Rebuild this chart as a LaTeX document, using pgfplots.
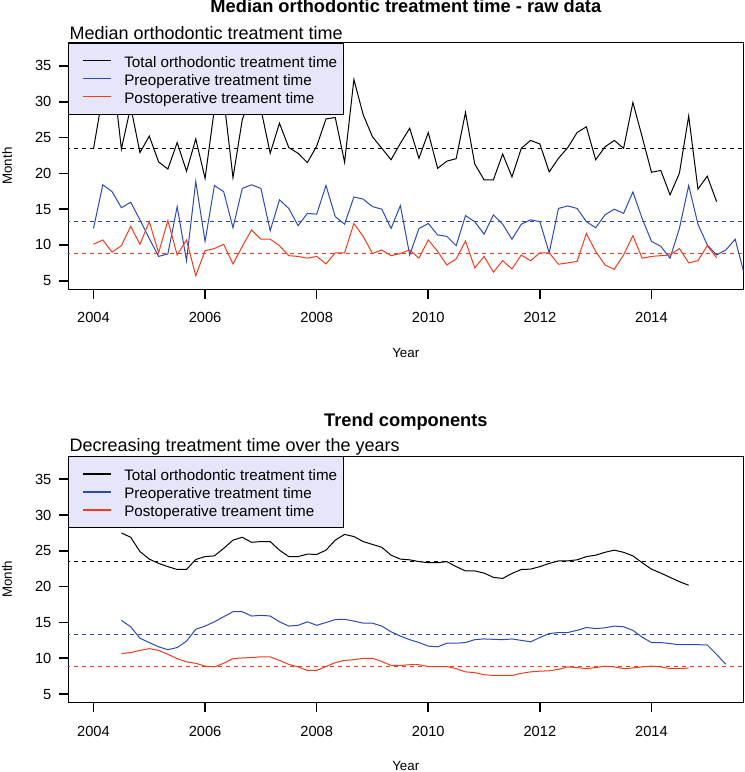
\documentclass[border=0pt]{standalone}
\usepackage{fontspec}
\setmainfont{Liberation Sans}
\usepackage{pgfplots}
\usepackage{pgfplotstable}
\pgfplotsset{compat=1.18}
\definecolor{cblue}{RGB}{45,75,175}
\definecolor{cred}{RGB}{240,60,30}
\definecolor{legfill}{RGB}{230,230,250}

\pgfplotstableread{
t total pre post
2004.000 23.4 12.3 10.1
2004.167 31 18.4 10.7
2004.333 35 17.45 9.0
2004.500 23.4 15.2 9.9
2004.667 29.3 15.96 12.6
2004.833 22.9 13.5 10.1
2005.000 25.2 10.9 13.25
2005.167 21.6 8.4 8.9
2005.333 20.6 8.74 13.4
2005.500 24.3 15.35 8.6
2005.667 20.3 7.8 10.7
2005.833 24.8 18.85 5.7
2006.000 19.3 10.5 9.2
2006.167 29 18.3 9.5
2006.333 30.6 17.45 10.1
2006.500 19.4 12.4 7.35
2006.667 27.5 17.9 9.8
2006.833 31 18.4 12.1
2007.000 29 17.9 10.8
2007.167 22.8 12.0 10.8
2007.333 27.0 16.3 9.9
2007.500 23.6 15.1 8.5
2007.667 22.8 12.7 8.4
2007.833 21.5 14.4 8.15
2008.000 23.8 14.3 8.4
2008.167 27.6 18.3 7.35
2008.333 27.8 13.95 8.9
2008.500 21.55 12.9 8.9
2008.667 33.1 16.7 13.0
2008.833 28.2 16.4 11.2
2009.000 25.1 15.35 8.8
2009.167 23.5 15.0 9.3
2009.333 21.9 12.3 8.5
2009.500 24.2 15.5 8.8
2009.667 26.3 8.6 9.3
2009.833 22.1 12.3 8.15
2010.000 25.7 13.0 10.7
2010.167 20.7 11.4 9.1
2010.333 21.7 11.2 7.2
2010.500 22.05 9.9 8.05
2010.667 28.5 14.1 10.55
2010.833 21.3 13.25 6.8
2011.000 19.1 11.5 8.4
2011.167 19.1 14.2 6.2
2011.333 22.7 12.9 7.8
2011.500 19.5 10.8 6.65
2011.667 23.5 12.9 8.6
2011.833 24.6 13.5 7.8
2012.000 24.1 13.25 8.9
2012.167 20.2 8.9 8.9
2012.333 22.1 15.1 7.3
2012.500 23.6 15.45 7.5
2012.667 25.7 15.1 7.7
2012.833 26.5 13.25 11.6
2013.000 21.9 12.4 9.1
2013.167 23.7 14.2 7.2
2013.333 24.6 15.0 6.6
2013.500 23.5 14.4 8.6
2013.667 29.9 17.4 11.3
2013.833 25.1 13.7 8.15
2014.000 20.15 10.5 8.4
2014.167 20.4 9.8 8.5
2014.333 17.0 8.15 8.6
2014.500 20.0 12.3 9.5
2014.667 28.0 18.3 7.5
2014.833 17.8 12.9 7.8
2015.000 19.6 10.0 9.9
2015.167 16.05 8.6 8.2
2015.333 nan 9.3 nan
2015.500 nan 10.8 nan
2015.667 nan 5.8 nan
}\rawdata

\pgfplotstableread{
t total pre post
2004.500 27.5 15.3 10.65
2004.667 26.9 14.4 10.8
2004.833 24.9 12.8 11.1
2005.000 23.85 12.2 11.35
2005.167 23.25 11.6 11.1
2005.333 22.8 11.2 10.55
2005.500 22.4 11.5 9.95
2005.667 22.4 12.4 9.5
2005.833 23.8 14.05 9.3
2006.000 24.2 14.5 8.9
2006.167 24.3 15.1 8.8
2006.333 25.35 15.8 9.3
2006.500 26.5 16.5 9.95
2006.667 26.9 16.5 10.05
2006.833 26.2 15.9 10.1
2007.000 26.3 16.0 10.2
2007.167 26.3 15.9 10.2
2007.333 25.1 15.1 9.7
2007.500 24.2 14.5 9.15
2007.667 24.2 14.6 8.8
2007.833 24.55 15.1 8.3
2008.000 24.5 14.6 8.3
2008.167 25.1 15.0 8.85
2008.333 26.5 15.4 9.4
2008.500 27.3 15.45 9.7
2008.667 27.0 15.2 9.8
2008.833 26.3 14.9 10.0
2009.000 25.9 14.9 10.0
2009.167 25.5 14.5 9.55
2009.333 24.4 13.7 9.0
2009.500 23.85 13.1 9.0
2009.667 23.75 12.6 9.1
2009.833 23.5 12.2 9.1
2010.000 23.35 11.7 8.85
2010.167 23.35 11.6 8.85
2010.333 23.5 12.1 8.85
2010.500 22.8 12.1 8.55
2010.667 22.2 12.2 8.1
2010.833 22.2 12.6 8.0
2011.000 21.9 12.7 7.7
2011.167 21.3 12.65 7.6
2011.333 21.15 12.6 7.6
2011.500 21.85 12.7 7.6
2011.667 22.4 12.5 7.9
2011.833 22.45 12.3 8.1
2012.000 22.8 12.9 8.2
2012.167 23.25 13.45 8.25
2012.333 23.6 13.6 8.45
2012.500 23.6 13.6 8.8
2012.667 23.75 13.9 8.7
2012.833 24.2 14.3 8.55
2013.000 24.4 14.15 8.7
2013.167 24.8 14.25 8.9
2013.333 25.1 14.5 8.8
2013.500 24.8 14.4 8.55
2013.667 24.3 13.9 8.65
2013.833 23.35 12.95 8.8
2014.000 22.45 12.2 8.9
2014.167 21.9 12.2 8.8
2014.333 21.3 12.05 8.55
2014.500 20.7 11.9 8.55
2014.667 20.2 11.9 8.65
2014.833 nan 11.9 nan
2015.000 nan 11.85 nan
2015.167 nan 10.55 nan
2015.333 nan 9.15 nan
}\trenddata

\pgfplotsset{myaxis/.style={
  scale only axis, width=506.25pt, height=185pt,
  xmin=2003.548, xmax=2015.645, ymin=3.8, ymax=38.25,
  xtick={2004,2006,2008,2010,2012,2014},
  ytick={5,10,15,20,25,30,35},
  xtick pos=bottom, ytick pos=left,
  xtick align=outside, ytick align=outside,
  major tick length=7pt,
  x tick style={draw=black, line width=1.2pt},
  y tick style={draw=black, line width=1.2pt},
  /pgf/number format/assume math mode=true,
  /pgf/number format/1000 sep={},
  tick label style={font=\fontsize{11}{13}\selectfont, inner sep=0pt},
  xticklabel style={anchor=base, yshift=-18pt},
  yticklabel style={anchor=east, xshift=-5.5pt},
  axis line style={line width=0.75pt, black},
  xlabel={Year}, ylabel={Month},
  label style={font=\fontsize{11.3}{13}\selectfont},
  every axis x label/.style={at={(axis description cs:0.5,0)}, anchor=base, yshift=-51.2pt},
  every axis y label/.style={at={(axis description cs:0,0.5)}, xshift=-45.8pt, rotate=90, anchor=center},
  legend cell align=left,
  legend style={at={(0,1)}, anchor=north west, fill=legfill, draw=black, line width=0.6pt,
    font=\fontsize{11.4}{13.5}\selectfont,
    inner xsep=4.5pt, inner ysep=3pt, row sep=-6.75pt, column sep=9.5pt,
    nodes={inner sep=0pt, text height=15pt, text depth=5.25pt}},
  legend image code/.code={\path (0pt,0pt); \draw[#1, line width=1.1pt] (5.5pt,0pt) -- (26.8pt,0pt);},
  clip=true,
}}

\begin{document}
\begin{tikzpicture}
\useasboundingbox (0pt,0pt) rectangle (558pt,-579pt);

\begin{axis}[myaxis, at={(51.2pt,-32pt)}, anchor=north west]
\addplot[black, line width=0.75pt, forget plot, dash pattern=on 3.5pt off 2.5pt] coordinates {(2003.5,23.5) (2015.7,23.5)};
\addplot[cblue, line width=0.75pt, forget plot, dash pattern=on 3.5pt off 2.5pt] coordinates {(2003.5,13.3) (2015.7,13.3)};
\addplot[cred, line width=0.75pt, forget plot, dash pattern=on 3.5pt off 2.5pt] coordinates {(2003.5,8.8) (2015.7,8.8)};
\addplot[black, line width=0.75pt] table[x=t, y=total] {\rawdata};
\addlegendentry{Total orthodontic treatment time}
\addplot[cblue, line width=0.75pt] table[x=t, y=pre] {\rawdata};
\addlegendentry{Preoperative treatment time}
\addplot[cred, line width=0.75pt] table[x=t, y=post] {\rawdata};
\addlegendentry{Postoperative treament time}
\end{axis}

\begin{axis}[myaxis, at={(51.2pt,-342pt)}, anchor=north west]
\addplot[black, line width=0.75pt, forget plot, dash pattern=on 3.5pt off 2.5pt] coordinates {(2003.5,23.5) (2015.7,23.5)};
\addplot[cblue, line width=0.75pt, forget plot, dash pattern=on 3.5pt off 2.5pt] coordinates {(2003.5,13.3) (2015.7,13.3)};
\addplot[cred, line width=0.75pt, forget plot, dash pattern=on 3.5pt off 2.5pt] coordinates {(2003.5,8.8) (2015.7,8.8)};
\addplot[black, line width=0.75pt] table[x=t, y=total] {\trenddata};
\addlegendentry{Total orthodontic treatment time}
\addplot[cblue, line width=0.75pt] table[x=t, y=pre] {\trenddata};
\addlegendentry{Preoperative treatment time}
\addplot[cred, line width=0.75pt] table[x=t, y=post] {\trenddata};
\addlegendentry{Postoperative treament time}
\end{axis}

\node[anchor=base, font=\bfseries\fontsize{13.7}{16}\selectfont] at (304.4pt,-9.5pt) {Median orthodontic treatment time - raw data};
\node[anchor=base west, inner sep=0pt, font=\fontsize{13.5}{16}\selectfont] at (52pt,-29.5pt) {Median orthodontic treatment time};
\node[anchor=base, font=\bfseries\fontsize{13.7}{16}\selectfont] at (304.4pt,-320pt) {Trend components};
\node[anchor=base west, inner sep=0pt, font=\fontsize{13.5}{16}\selectfont] at (52pt,-338.8pt) {Decreasing treatment time over the years};
\end{tikzpicture}
\end{document}
